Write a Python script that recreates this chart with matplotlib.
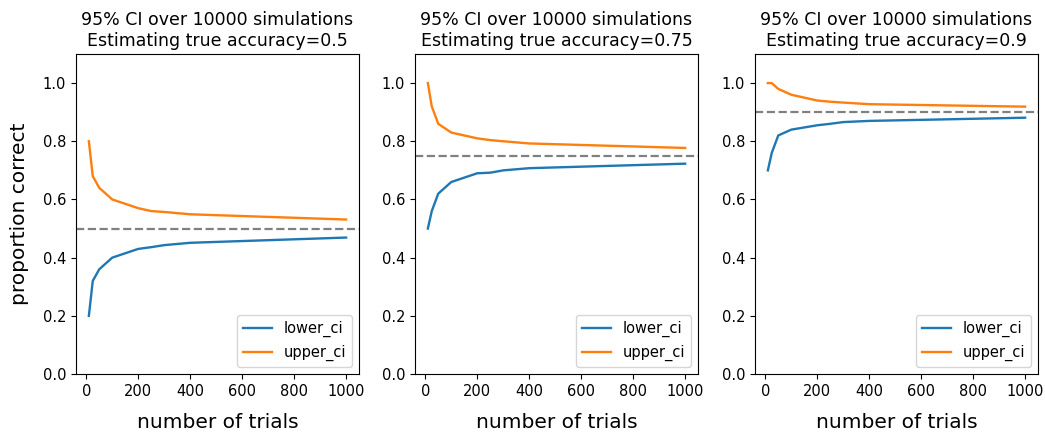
"""
Confidence interval width vs number of trials
"""

import matplotlib
matplotlib.use('Agg')
import matplotlib.pyplot as plt

n_sims = 10000
trials = [10, 25, 50, 100, 200, 250, 300, 400, 1000]
true_acc = [0.5, 0.75, 0.9]

lower_ci = [
  [0.20, 0.32, 0.36, 0.40, 0.43, 0.436, 0.443, 0.451, 0.469],
  [0.50, 0.56, 0.62, 0.66, 0.69, 0.692, 0.70, 0.7075, 0.723],
  [0.70, 0.76, 0.82, 0.84, 0.855, 0.86, 0.866, 0.87, 0.881],
]
upper_ci = [
  [0.80, 0.68, 0.64, 0.60, 0.57, 0.56, 0.557, 0.549, 0.531],
  [1.00, 0.92, 0.86, 0.83, 0.81, 0.804, 0.80, 0.7925, 0.777],
  [1.00, 1.00, 0.98, 0.96, 0.94, 0.936, 0.933, 0.9275, 0.919],
]

W, H = 1045, 434
fig = plt.figure(figsize=(W / 100, H / 100), dpi=100)

lefts = [76, 415, 755]
ax_w = 283
top, bottom = 54, 374

for i, p in enumerate(true_acc):
  ax = fig.add_axes([lefts[i] / W, 1 - bottom / H, ax_w / W, (bottom - top) / H])
  ax.plot(trials, lower_ci[i], label='lower_ci', color='#1f77b4', lw=1.7)
  ax.plot(trials, upper_ci[i], label='upper_ci', color='#ff7f0e', lw=1.7)
  ax.axhline(p, color='gray', linestyle='--', lw=1.6)
  ax.set_ylim(0, 1.1)
  ax.set_yticks([0.0, 0.2, 0.4, 0.6, 0.8, 1.0])
  ax.set_xticks([0, 200, 400, 600, 800, 1000])
  ax.tick_params(labelsize=10.5)
  ax.set_title('95%% CI over %d simulations\nEstimating true accuracy=%s' % (n_sims, p),
               fontsize=12.5)
  ax.set_xlabel('number of trials', fontsize=14.5, labelpad=10)
  if i == 0:
    ax.set_ylabel('proportion correct', fontsize=14.5, labelpad=10)
  ax.legend(loc='lower right', fontsize=10.5)

fig.savefig('out.png', dpi=100)
